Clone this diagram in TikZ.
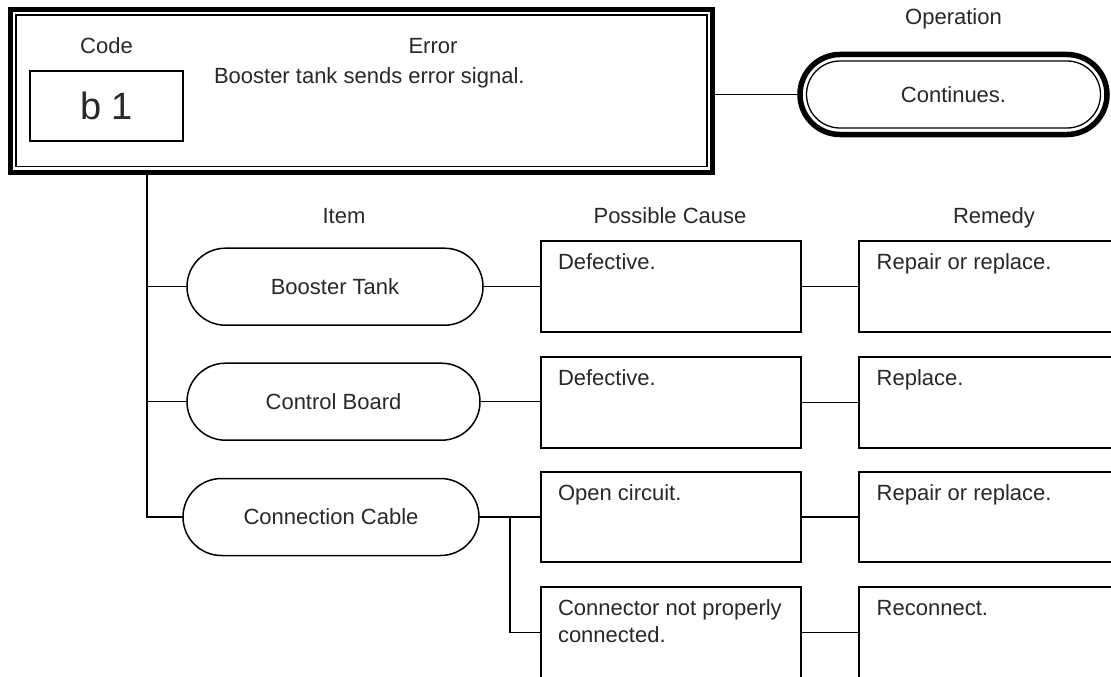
\documentclass[tikz,border=0pt]{standalone}
\usepackage{fontspec}
\setmainfont{Liberation Sans}
\usetikzlibrary{calc}
\definecolor{txt}{RGB}{40,40,40}
\begin{document}
\begin{tikzpicture}[x=1pt,y=-1pt,
  every node/.style={inner sep=0pt, outer sep=0pt, text=txt, font=\fontsize{22}{26.5}\selectfont},
  causebox/.style={draw=black, line width=1.8pt, minimum width=260pt, minimum height=91pt},
  rembox/.style={draw=black, line width=1.8pt, minimum width=266pt, minimum height=91pt},
  pill/.style={draw=black, line width=1.5pt, minimum height=77pt, rounded corners=38.5pt},
  conn/.style={draw=black, line width=1.3pt},
  celltext/.style={anchor=base west, align=left},
  hdr/.style={anchor=base}
]
\useasboundingbox (0,0) rectangle (1111,677);

% main error box
\node[draw=black, line width=5pt, minimum width=702pt, minimum height=162.5pt] (main) at (361.5,90.75) {};
\node[draw=black, line width=1.3pt, minimum width=691pt, minimum height=151.5pt] (maininner) at (361.5,90.75) {};
\node[draw=black, line width=2.5pt, minimum width=153pt, minimum height=70pt, font=\fontsize{38}{44}\selectfont] (code) at (106.5,106) {b 1};
\node[hdr] (codelbl) at (106.5,53.5) {Code};
\node[hdr] (errlbl) at (433,54) {Error};
\node[anchor=base west] (errtext) at (214,84) {Booster tank sends error signal.};

% operation
\node[hdr] (oplbl) at (953.5,25) {Operation};
\node[draw=black, line width=5.5pt, minimum width=307pt, minimum height=80pt, rounded corners=40pt] (op) at (953.5,94.5) {};
\node[draw=black, line width=1.3pt, minimum width=294pt, minimum height=67pt, rounded corners=33.5pt] (opinner) at (953.5,94.5) {Continues.};
\draw[conn] (op.west) -- (op.west -| main.east);

% headers
\node[hdr] (hitem) at (344,223) {Item};
\node[hdr] (hcause) at (670,223) {Possible Cause};
\node[hdr] (hrem) at (994,223) {Remedy};

% items
\node[pill, minimum width=296pt] (tank) at (335,286.7) {Booster Tank};
\node[pill, minimum width=293pt] (board) at (333.5,401.7) {Control Board};
\node[pill, minimum width=296pt] (cable) at (331,517) {Connection Cable};

% causes
\node[causebox] (c1) at (671,286.2) {};
\node[causebox] (c2) at (671,402.2) {};
\node[causebox, minimum height=90.6pt] (c3) at (671,517) {};
\node[causebox, minimum height=91.3pt] (c4) at (671,632.35) {};
\node[celltext] (c1t) at ($(c1.north west)+(17,29)$) {Defective.};
\node[celltext] (c2t) at ($(c2.north west)+(17,29)$) {Defective.};
\node[celltext] (c3t) at ($(c3.north west)+(17,29)$) {Open circuit.};
\node[anchor=north west, align=left] (c4t) at ($(c4.north west)+(17,13.2)$) {Connector not properly\\connected.};

% remedies
\node[rembox] (r1) at (992,286.2) {};
\node[rembox] (r2) at (992,402.2) {};
\node[rembox, minimum height=90.6pt] (r3) at (992,517) {};
\node[rembox, minimum height=91.3pt] (r4) at (992,632.35) {};
\node[celltext] (r1t) at ($(r1.north west)+(17.7,29)$) {Repair or replace.};
\node[celltext] (r2t) at ($(r2.north west)+(17.7,29)$) {Replace.};
\node[celltext] (r3t) at ($(r3.north west)+(17.7,29)$) {Repair or replace.};
\node[celltext] (r4t) at ($(r4.north west)+(17.7,29)$) {Reconnect.};

% trunk and branches
\coordinate (trunk) at (147,172);
\draw[conn] (trunk) |- (cable.west);
\draw[conn] (trunk |- board.west) -- (board.west);
\draw[conn] (trunk |- tank.west) -- (tank.west);

\draw[conn] (tank.east) -- (tank.east -| c1.west);
\draw[conn] (board.east) -- (board.east -| c2.west);
\draw[conn] (cable.east) -- (cable.east -| c3.west);
\coordinate (br) at (510,517);
\draw[conn] (br) |- (c4.west);

\draw[conn] (c1.east) -- (c1.east -| r1.west);
\draw[conn] (c2.east) -- (c2.east -| r2.west);
\draw[conn] (c3.east) -- (c3.east -| r3.west);
\draw[conn] (c4.east) -- (c4.east -| r4.west);
\end{tikzpicture}
\end{document}
